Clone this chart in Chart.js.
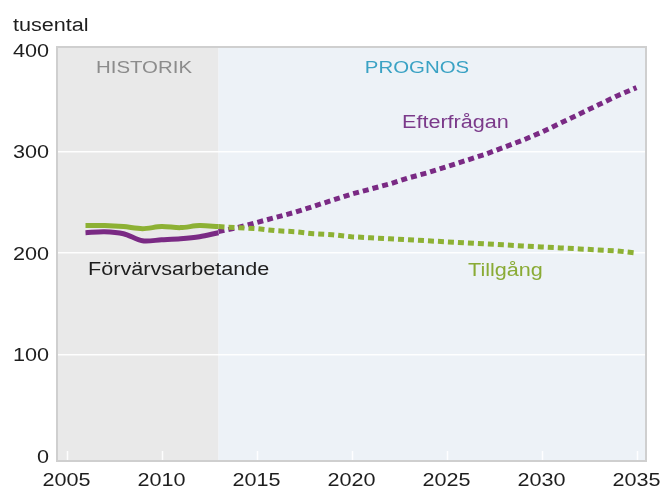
<!DOCTYPE html>
<html>
<head>
<meta charset="utf-8">
<script src="https://cdn.jsdelivr.net/npm/chart.js@4.4.0/dist/chart.umd.min.js"></script>
<style>
    html, body { margin: 0; padding: 0; background: #fff; }
    canvas { display: block; }
</style>
</head>
<body>
<canvas id="chart" width="662" height="488"></canvas>
<script>
// historik
const histYears = [2006, 2007, 2008, 2009, 2010, 2011, 2012, 2013];
const employed = [220, 221, 219, 212, 213, 214, 216, 220];
const supplyHist = [227, 227, 226, 224, 226, 225, 227, 226];

// prognos
const forecastYears = [2013, 2014, 2015, 2016, 2017, 2018, 2019, 2020, 2021, 2022, 2023, 2024,
    2025, 2026, 2027, 2028, 2029, 2030, 2031, 2032, 2033, 2034, 2035];
const demand = [221, 225, 230, 235, 240, 246, 252, 258, 263, 268, 274, 279,
    285, 291, 297, 304, 311, 319, 328, 337, 346, 355, 363];
const supply = [226, 225, 224, 222, 221, 219, 218, 216, 215, 214, 213, 212,
    211, 210, 209, 208, 207, 206, 205, 204, 203, 202, 200];

const xTicks = [2005, 2010, 2015, 2020, 2025, 2030, 2035];
const yTicks = [0, 100, 200, 300, 400];
const historyEnd = 2013;

const PURPLE = '#7a2a84';
const GREEN = '#8db134';
const FONT = '"Liberation Sans", Arial, sans-serif';
const TEXT_STRETCH = 1.2; // the reference text is horizontally stretched

const toPoints = (years, values) => years.map((x, i) => ({x, y: values[i]}));

// draw every text a bit wider, anchored at its x
function stretchText(ctx) {
    if (ctx._stretched) return;
    const raw = ctx.fillText;
    ctx.fillText = function (text, x, y, maxWidth) {
        this.save();
        this.translate(x, y);
        this.scale(TEXT_STRETCH, 1);
        raw.call(this, text, 0, 0);
        this.restore();
    };
    ctx._stretched = true;
}

const backdrop = {
    id: 'backdrop',
    beforeDraw(chart) {
        const {ctx, chartArea: a, scales: {x}} = chart;
        stretchText(ctx);
        const split = x.getPixelForValue(historyEnd);
        ctx.save();
        ctx.fillStyle = '#e9e9e9';
        ctx.fillRect(a.left, a.top, split - a.left, a.bottom - a.top);
        ctx.fillStyle = '#edf2f7';
        ctx.fillRect(split, a.top, a.right - split, a.bottom - a.top);
        // small tick marks inside the frame
        ctx.strokeStyle = 'rgba(255,255,255,0.9)';
        ctx.lineWidth = 1.5;
        xTicks.forEach(v => {
            const px = Math.round(x.getPixelForValue(v)) + 0.5;
            ctx.beginPath();
            ctx.moveTo(px, a.bottom - 10);
            ctx.lineTo(px, a.bottom);
            ctx.stroke();
        });
        ctx.restore();
    },
    afterDraw(chart) {
        const {ctx, chartArea: a} = chart;
        ctx.save();
        ctx.strokeStyle = '#cfcfcf';
        ctx.lineWidth = 2;
        ctx.strokeRect(a.left, a.top, a.right - a.left, a.bottom - a.top);

        ctx.textBaseline = 'alphabetic';
        ctx.font = '18px ' + FONT;
        ctx.fillStyle = '#1e1e1e';
        ctx.textAlign = 'left';
        ctx.fillText('tusental', 13, 31);
        ctx.fillText('Förvärvsarbetande', 88, 275);

        ctx.fillStyle = '#7b3a8a';
        ctx.fillText('Efterfrågan', 402, 128);
        ctx.fillStyle = '#8aab35';
        ctx.fillText('Tillgång', 468, 276);

        ctx.font = '17px ' + FONT;
        ctx.textAlign = 'center';
        ctx.fillStyle = '#8c8c8c';
        ctx.fillText('HISTORIK', 144, 73);
        ctx.fillStyle = '#3aa2c4';
        ctx.fillText('PROGNOS', 417, 73);
        ctx.restore();
    }
};

new Chart(document.getElementById('chart'), {
    type: 'line',
    data: {
        datasets: [
            {
                label: 'Tillgång',
                data: toPoints(histYears, supplyHist),
                borderColor: GREEN,
                borderWidth: 5,
                tension: 0.3,
            },
            {
                label: 'Förvärvsarbetande',
                data: toPoints(histYears, employed),
                borderColor: PURPLE,
                borderWidth: 5,
                tension: 0.3,
            },
            {
                label: 'Tillgång prognos',
                data: toPoints(forecastYears, supply),
                borderColor: GREEN,
                borderWidth: 5,
                borderDash: [6, 4],
                borderCapStyle: 'butt',
            },
            {
                label: 'Efterfrågan',
                data: toPoints(forecastYears, demand),
                borderColor: PURPLE,
                borderWidth: 5,
                borderDash: [6, 4],
                borderCapStyle: 'butt',
            },
        ]
    },
    options: {
        responsive: false,
        animation: false,
        devicePixelRatio: 1,
        layout: {padding: {top: 47, right: 16, left: 0, bottom: 0}},
        elements: {point: {radius: 0}},
        plugins: {
            legend: {display: false},
            tooltip: {enabled: false},
        },
        scales: {
            x: {
                type: 'linear',
                min: 2004.5,
                max: 2035.5,
                afterBuildTicks: scale => { scale.ticks = xTicks.map(value => ({value})); },
                afterFit: scale => {
                    scale.height = 27;
                    scale.paddingLeft = 0;
                    scale.paddingRight = 0;
                },
                grid: {display: false},
                border: {display: false},
                ticks: {
                    padding: 1,
                    color: '#1e1e1e',
                    font: {family: FONT, size: 18},
                    callback: v => String(v),
                },
            },
            y: {
                min: -5,
                max: 403,
                afterBuildTicks: scale => { scale.ticks = yTicks.map(value => ({value})); },
                afterFit: scale => {
                    scale.width = 57;
                    scale.paddingTop = 0;
                    scale.paddingBottom = 0;
                },
                grid: {
                    drawTicks: false,
                    lineWidth: 1.5,
                    color: ctx => (ctx.tick && (ctx.tick.value === 0 || ctx.tick.value === 400))
                        ? 'rgba(0,0,0,0)' : 'rgba(255,255,255,0.95)',
                },
                border: {display: false},
                ticks: {
                    padding: 8,
                    labelOffset: 2,
                    color: '#1e1e1e',
                    font: {family: FONT, size: 18},
                },
            },
        },
    },
    plugins: [backdrop],
});
</script>
</body>
</html>
